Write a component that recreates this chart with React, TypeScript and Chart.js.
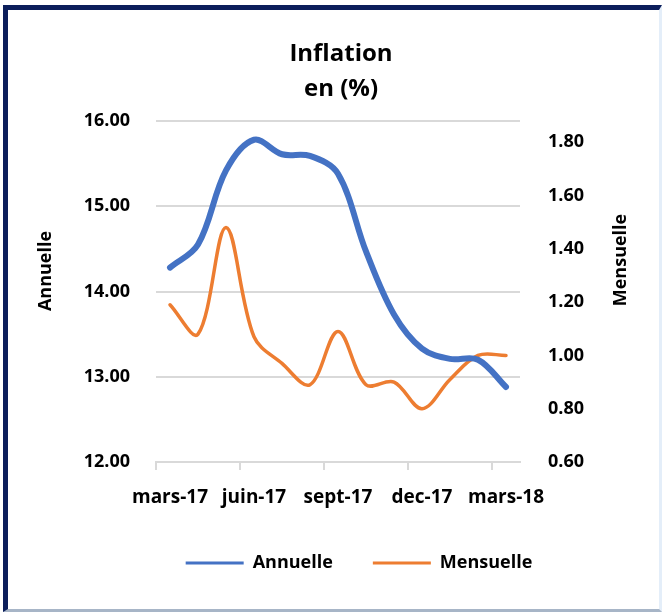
import React, { useEffect, useRef } from 'react';
import { Chart, registerables } from 'chart.js';

Chart.register(...registerables);

// ---- data ----
const MONTHS = ['mars-17', 'avr-17', 'mai-17', 'juin-17', 'juil-17', 'août-17', 'sept-17', 'oct-17', 'nov-17', 'dec-17', 'janv-18', 'févr-18', 'mars-18'];
const ANNUELLE = [14.28, 14.55, 15.42, 15.78, 15.61, 15.59, 15.38, 14.47, 13.73, 13.33, 13.21, 13.2, 12.88];
const MENSUELLE = [1.19, 1.08, 1.48, 1.07, 0.97, 0.89, 1.09, 0.89, 0.9, 0.8, 0.91, 1.0, 1.0];
const LEFT_TICKS = [12, 13, 14, 15, 16];
const RIGHT_TICKS = [0.6, 0.8, 1.0, 1.2, 1.4, 1.6, 1.8];
const SERIES_NAMES = ['Annuelle', 'Mensuelle'];
const TITLE_LINES = ['Inflation', 'en (%)'];
const LABEL_STEP = 3;

const FAMILY = '"Open Sans", "Noto Sans", sans-serif';
const BLUE = '#4472C4';
const ORANGE = '#ED7D31';
const GRID = '#d9d9d9';

const sideTitles = {
  id: 'sideTitles',
  afterDraw(chart: any) {
    const ctx = chart.ctx;
    ctx.save();
    ctx.font = `bold 18px ${FAMILY}`;
    ctx.fillStyle = '#000';
    ctx.textAlign = 'center';
    ctx.textBaseline = 'middle';
    const items: [string, number, number][] = [
      [SERIES_NAMES[0], 46, 271],
      [SERIES_NAMES[1], 621, 260],
    ];
    items.forEach(([t, x, y]) => {
      ctx.save();
      ctx.translate(x, y);
      ctx.rotate(-Math.PI / 2);
      ctx.fillText(t, 0, 0);
      ctx.restore();
    });
    ctx.restore();
  },
};

const boxShift = {
  id: 'boxShift',
  afterLayout(chart: any) {
    const l = chart.legend;
    if (l) {
      l.left += 28;
      l.right += 28;
    }
    const t = chart.titleBlock;
    if (t) {
      t.left += 10;
      t.right += 10;
    }
  },
};

export default function App() {
  const ref = useRef<HTMLCanvasElement | null>(null);

  useEffect(() => {
    if (!ref.current) return;
    const font = { family: FAMILY, size: 18, weight: 'bold' as const };
    const xFont = { family: FAMILY, size: 19, weight: 'bold' as const };
    const chart = new Chart(ref.current, {
      type: 'line',
      data: {
        labels: MONTHS,
        datasets: [
          {
            label: SERIES_NAMES[0],
            data: ANNUELLE,
            yAxisID: 'y',
            borderColor: BLUE,
            backgroundColor: BLUE,
            borderWidth: 6,
            pointRadius: 0,
            tension: 0.35,
            borderCapStyle: 'round',
          },
          {
            label: SERIES_NAMES[1],
            data: MENSUELLE,
            yAxisID: 'y1',
            borderColor: ORANGE,
            backgroundColor: ORANGE,
            borderWidth: 3.5,
            pointRadius: 0,
            tension: 0.35,
            borderCapStyle: 'round',
          },
        ],
      },
      options: {
        responsive: false,
        animation: false,
        layout: { padding: { top: 0, bottom: 30, left: 0, right: 0 } },
        plugins: {
          title: {
            display: true,
            text: TITLE_LINES,
            color: '#000',
            font: { family: FAMILY, size: 24, weight: 'bold', lineHeight: 1.45 },
            padding: { top: 37, bottom: 14.4 },
          },
          legend: {
            position: 'bottom',
            labels: {
              color: '#000',
              font,
              usePointStyle: true,
              pointStyle: 'line',
              pointStyleWidth: 58,
              padding: 40,
              generateLabels: (c: any) => {
                const items = (Chart.defaults.plugins.legend.labels as any).generateLabels(c);
                items.forEach((it: any) => {
                  it.lineWidth = 3;
                  it.pointStyle = 'line';
                });
                return items;
              },
            },
          },
          tooltip: { enabled: false },
        },
        scales: {
          x: {
            type: 'category',
            offset: true,
            afterFit: (s: any) => {
              s.height = 52;
            },
            grid: {
              offset: true,
              drawOnChartArea: false,
              drawTicks: true,
              tickLength: 8,
              lineWidth: 2,
              color: (c: any) => (typeof c.index === 'number' && c.index % LABEL_STEP === 0 ? GRID : 'rgba(0,0,0,0)'),
            },
            border: { display: true, color: GRID, width: 2 },
            ticks: {
              autoSkip: false,
              maxRotation: 0,
              minRotation: 0,
              padding: 16,
              color: '#000',
              font: xFont,
              callback: (_v: any, i: number) => (i % LABEL_STEP === 0 ? MONTHS[i] : ''),
            },
          },
          y: {
            type: 'linear',
            position: 'left',
            min: LEFT_TICKS[0],
            max: LEFT_TICKS[LEFT_TICKS.length - 1],
            afterBuildTicks: (s: any) => {
              s.ticks = LEFT_TICKS.map((v) => ({ value: v }));
            },
            afterFit: (s: any) => {
              s.width = 156;
            },
            grid: { color: GRID, lineWidth: 2, drawTicks: false },
            border: { display: false },
            ticks: {
              padding: 26,
              color: '#000',
              font,
              callback: (v: any) => Number(v).toFixed(2),
            },
          },
          y1: {
            type: 'linear',
            position: 'right',
            min: 0.6,
            max: 1.88,
            afterBuildTicks: (s: any) => {
              s.ticks = RIGHT_TICKS.map((v) => ({ value: v }));
            },
            afterFit: (s: any) => {
              s.width = 142;
            },
            grid: { display: false, drawOnChartArea: false },
            border: { display: false },
            ticks: {
              padding: 20,
              color: '#000',
              font,
              callback: (v: any) => Number(v).toFixed(2),
            },
          },
        },
      },
      plugins: [sideTitles, boxShift],
    });
    return () => chart.destroy();
  }, []);

  return (
    <div style={{ position: 'fixed', left: 0, top: 0, width: 662, height: 612, background: '#fff' }}>
      <div
        style={{
          position: 'absolute',
          left: 3,
          top: 5,
          width: 659,
          height: 607,
          boxSizing: 'border-box',
          borderTop: '5px solid #0c1e5b',
          borderLeft: '5px solid #0c1e5b',
          borderRight: '3px solid #e4eef9',
          borderBottom: '3px solid #a7b5c7',
        }}
      />
      <canvas
        ref={ref}
        width={662}
        height={612}
        style={{ position: 'absolute', left: 0, top: 0, width: 662, height: 612 }}
      />
    </div>
  );
}
